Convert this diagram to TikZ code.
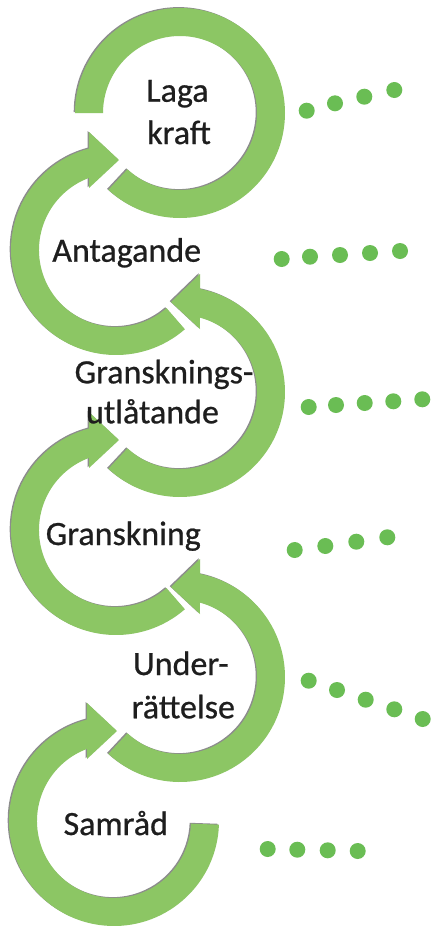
\documentclass[tikz,border=0pt]{standalone}
\usepackage{fontspec}
\setmainfont{Carlito}
\newfontfamily\lblfont[FakeBold=0.7]{Carlito}
\definecolor{arrowgreen}{RGB}{140,198,100}
\definecolor{dotgreen}{RGB}{106,189,84}
\definecolor{labelgray}{RGB}{30,30,30}
% left-column arrow: centre (#1,#2) in screen px, tail angle #3 (math)
\newcommand\LArrowPiece[3]{%
  \begin{scope}[shift={(#1,#2)},yscale=-1]
    \fill[arrowshadow,shift={(-1.3,0.9)}] (#3:105) arc[start angle=#3, end angle=105, radius=105]
      -- (-27,118) -- (3,90) -- (-27,62) -- (110.5:77) arc[start angle=110.5, end angle=#3, radius=77] -- cycle;
    \fill[arrowfill] (#3:105) arc[start angle=#3, end angle=105, radius=105]
      -- (-27,118) -- (3,90) -- (-27,62) -- (110.5:77) arc[start angle=110.5, end angle=#3, radius=77] -- cycle;
  \end{scope}}
% right-column arrow
\newcommand\RArrowPiece[2]{%
  \begin{scope}[shift={(#1,#2)},yscale=-1]
    \fill[arrowshadow,shift={(-1.3,0.9)}] (227:105) arc[start angle=227, end angle=439, radius=105]
      -- (20,118) -- (-9,90) -- (20,63) -- (75:77) arc[start angle=75, end angle=-133, radius=77] -- cycle;
    \fill[arrowfill] (227:105) arc[start angle=227, end angle=439, radius=105]
      -- (20,118) -- (-9,90) -- (20,63) -- (75:77) arc[start angle=75, end angle=-133, radius=77] -- cycle;
  \end{scope}}
\begin{document}
\begin{tikzpicture}[x=1pt,y=-1pt,
  arrowfill/.style={fill=arrowgreen},
  arrowshadow/.style={fill=black!75, fill opacity=0.6},
  dotstyle/.style={fill=dotgreen},
  lbltext/.style={font=\lblfont\fontsize{34}{41}\selectfont, text=labelgray, inner sep=0pt, anchor=base}]
\useasboundingbox (0,0) rectangle (431,927);
\fill[white] (0,0) rectangle (431,927);

% Laga kraft ring (no head)
\begin{scope}[shift={(180,113)},yscale=-1]
  \fill[arrowshadow,shift={(-1.3,0.9)}] (180:105) arc[start angle=180, end angle=-133, radius=105]
    -- (-133:77) arc[start angle=-133, end angle=180, radius=77] -- cycle;
  \fill[arrowfill] (180:105) arc[start angle=180, end angle=-133, radius=105]
    -- (-133:77) arc[start angle=-133, end angle=180, radius=77] -- cycle;
\end{scope}

\LArrowPiece{116}{250}{311}
\RArrowPiece{180}{392}
\LArrowPiece{116}{530}{311}
\RArrowPiece{180}{677}
\LArrowPiece{114}{821}{358}

% labels
\node[lbltext] (laga) at (177.5,101.7) {Laga};
\node[lbltext] (kraft) at (179,144) {kraft};
\node[lbltext] (antagande) at (126.7,261.7) {Antagande};
\node[lbltext] (gransknings) at (164,383.3) {Gransknings-};
\node[lbltext] (utlatande) at (152.5,423.3) {utlåtande};
\node[lbltext] (granskning) at (123.3,545) {Granskning};
\node[lbltext] (under) at (180.8,675) {Under-};
\node[lbltext] (rattelse) at (183.3,718.3) {rättelse};
\node[lbltext] (samrad) at (115.8,835) {Samråd};

% dots
\foreach \p in {(306.7,110.7),(335,103.3),(364.3,96.7),(394.3,90),
  (281.7,259),(310,256.7),(340,255),(370,253),(400,251),
  (308.7,407),(336,405),(364.7,403),(393.3,401.3),(422.3,399.3),
  (294.7,550),(325.3,546),(356.3,541.7),(387.3,537.3),
  (308.7,680.7),(337,690),(365.7,699.7),(394.3,709.3),(422.7,719),
  (267.7,849),(297.3,849.7),(327.7,850.3),(357.7,851)}
  \fill[dotstyle] \p circle[radius=8];
\end{tikzpicture}
\end{document}
